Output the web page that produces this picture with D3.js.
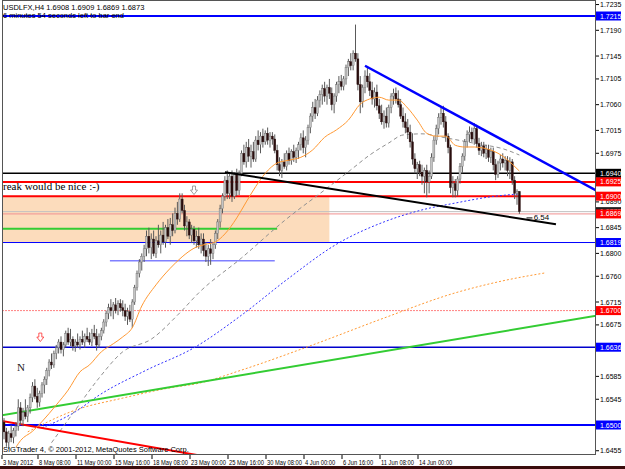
<!DOCTYPE html>
<html><head><meta charset="utf-8">
<script src="https://cdn.jsdelivr.net/npm/d3@7"></script>
<style>body{margin:0;background:#fff;overflow:hidden}svg{display:block}</style>
</head><body><svg id="c" width="625" height="469"></svg>
<script>
// ---------- DATA ----------
const candles = [
[1.6505,1.6512,1.6475,1.6488],[1.6488,1.6495,1.6462,1.6470],[1.6470,1.6490,1.6458,1.6485],[1.6485,1.6500,1.6470,1.6478],
[1.6478,1.6495,1.6468,1.6490],[1.6490,1.6505,1.6480,1.6498],[1.6498,1.6545,1.6490,1.6530],[1.6530,1.6540,1.6500,1.6508],
[1.6508,1.6530,1.6498,1.6522],[1.6522,1.6545,1.6510,1.6515],[1.6515,1.6535,1.6505,1.6530],[1.6530,1.6555,1.6520,1.6548],
[1.6548,1.6575,1.6540,1.6568],[1.6568,1.6580,1.6545,1.6550],[1.6550,1.6565,1.6530,1.6540],[1.6540,1.6560,1.6532,1.6555],
[1.6555,1.6575,1.6548,1.6570],[1.6570,1.6585,1.6555,1.6580],[1.6580,1.6600,1.6570,1.6595],[1.6595,1.6615,1.6585,1.6610],
[1.6610,1.6625,1.6598,1.6605],[1.6605,1.6630,1.6600,1.6625],[1.6625,1.6640,1.6615,1.6635],[1.6635,1.6650,1.6625,1.6645],
[1.6645,1.6655,1.6625,1.6632],[1.6632,1.6645,1.6620,1.6640],[1.6640,1.6665,1.6635,1.6660],[1.6660,1.6670,1.6640,1.6645],
[1.6645,1.6668,1.6638,1.6650],[1.6650,1.6655,1.6630,1.6638],[1.6638,1.6650,1.6628,1.6645],[1.6645,1.6660,1.6635,1.6640],
[1.6640,1.6655,1.6632,1.6650],[1.6650,1.6665,1.6640,1.6645],[1.6645,1.6660,1.6635,1.6655],[1.6655,1.6670,1.6645,1.6650],
[1.6650,1.6662,1.6640,1.6645],[1.6645,1.6668,1.6638,1.6660],[1.6660,1.6675,1.6650,1.6655],[1.6655,1.6668,1.6630,1.6640],
[1.6640,1.6660,1.6635,1.6655],[1.6655,1.6670,1.6648,1.6665],[1.6665,1.6685,1.6660,1.6680],[1.6680,1.6700,1.6672,1.6695],
[1.6695,1.6712,1.6685,1.6705],[1.6705,1.6720,1.6690,1.6700],[1.6700,1.6715,1.6685,1.6710],[1.6710,1.6722,1.6695,1.6700],
[1.6700,1.6718,1.6692,1.6712],[1.6712,1.6720,1.6698,1.6705],[1.6705,1.6718,1.6690,1.6700],[1.6700,1.6712,1.6682,1.6690],
[1.6690,1.6705,1.6675,1.6698],[1.6698,1.6710,1.6680,1.6685],[1.6685,1.6720,1.6670,1.6715],[1.6715,1.6745,1.6710,1.6740],
[1.6740,1.6770,1.6735,1.6765],[1.6765,1.6790,1.6758,1.6785],[1.6785,1.6800,1.6770,1.6795],[1.6795,1.6815,1.6785,1.6808],
[1.6808,1.6840,1.6795,1.6830],[1.6830,1.6845,1.6800,1.6810],[1.6810,1.6835,1.6790,1.6825],[1.6825,1.6840,1.6795,1.6800],
[1.6800,1.6830,1.6792,1.6822],[1.6822,1.6850,1.6810,1.6815],[1.6815,1.6840,1.6800,1.6832],[1.6832,1.6855,1.6815,1.6820],
[1.6820,1.6850,1.6810,1.6845],[1.6845,1.6860,1.6825,1.6830],[1.6830,1.6862,1.6815,1.6850],[1.6850,1.6870,1.6830,1.6840],
[1.6840,1.6880,1.6835,1.6870],[1.6870,1.6890,1.6850,1.6860],[1.6860,1.6905,1.6855,1.6895],[1.6895,1.6905,1.6870,1.6875],
[1.6875,1.6885,1.6840,1.6848],[1.6848,1.6865,1.6830,1.6855],[1.6855,1.6860,1.6825,1.6832],[1.6832,1.6850,1.6818,1.6842],
[1.6842,1.6848,1.6815,1.6822],[1.6822,1.6840,1.6810,1.6830],[1.6830,1.6845,1.6808,1.6815],[1.6815,1.6835,1.6800,1.6825],
[1.6825,1.6835,1.6795,1.6805],[1.6805,1.6820,1.6785,1.6795],[1.6795,1.6815,1.6778,1.6808],[1.6808,1.6825,1.6780,1.6800],
[1.6800,1.6820,1.6790,1.6815],[1.6815,1.6840,1.6808,1.6835],[1.6835,1.6860,1.6825,1.6855],[1.6855,1.6885,1.6845,1.6878],
[1.6878,1.6905,1.6870,1.6900],[1.6900,1.6935,1.6892,1.6928],[1.6928,1.6945,1.6895,1.6905],[1.6905,1.6940,1.6895,1.6935],
[1.6935,1.6945,1.6890,1.6900],[1.6900,1.6942,1.6895,1.6938],[1.6938,1.6948,1.6900,1.6910],[1.6910,1.6945,1.6902,1.6940],
[1.6940,1.6980,1.6935,1.6975],[1.6975,1.6990,1.6955,1.6960],[1.6960,1.6995,1.6950,1.6985],[1.6985,1.7000,1.6960,1.6970],
[1.6970,1.6990,1.6950,1.6978],[1.6978,1.6995,1.6960,1.6965],[1.6965,1.7005,1.6960,1.6998],[1.6998,1.7015,1.6980,1.6990],
[1.6990,1.7012,1.6975,1.7005],[1.7005,1.7018,1.6985,1.6995],[1.6995,1.7015,1.6990,1.7010],[1.7010,1.7020,1.6990,1.6998],
[1.6998,1.7012,1.6985,1.7005],[1.7005,1.7012,1.6990,1.7000],[1.7000,1.7008,1.6975,1.6980],[1.6980,1.6990,1.6945,1.6955],
[1.6955,1.6968,1.6935,1.6945],[1.6945,1.6965,1.6932,1.6960],[1.6960,1.6975,1.6948,1.6952],[1.6952,1.6980,1.6945,1.6975],
[1.6975,1.6985,1.6955,1.6962],[1.6962,1.6982,1.6955,1.6978],[1.6978,1.6990,1.6960,1.6968],[1.6968,1.6985,1.6958,1.6980],
[1.6980,1.6995,1.6965,1.6990],[1.6990,1.7010,1.6980,1.7002],[1.7002,1.7015,1.6975,1.6985],[1.6985,1.7005,1.6968,1.6998],
[1.6998,1.7025,1.6990,1.7020],[1.7020,1.7045,1.7010,1.7040],[1.7040,1.7065,1.7030,1.7055],[1.7055,1.7070,1.7035,1.7045],
[1.7045,1.7075,1.7040,1.7068],[1.7068,1.7085,1.7055,1.7078],[1.7078,1.7095,1.7060,1.7088],[1.7088,1.7100,1.7065,1.7075],
[1.7075,1.7095,1.7060,1.7090],[1.7090,1.7105,1.7070,1.7080],[1.7080,1.7090,1.7050,1.7060],[1.7060,1.7080,1.7045,1.7075],
[1.7075,1.7100,1.7065,1.7095],[1.7095,1.7110,1.7080,1.7100],[1.7100,1.7112,1.7085,1.7092],[1.7092,1.7110,1.7085,1.7105],
[1.7105,1.7130,1.7095,1.7125],[1.7125,1.7140,1.7110,1.7135],[1.7135,1.7150,1.7120,1.7128],[1.7128,1.7155,1.7120,1.7150],
[1.7150,1.7200,1.7135,1.7140],[1.7140,1.7150,1.7085,1.7095],[1.7095,1.7110,1.7045,1.7065],[1.7065,1.7095,1.7055,1.7090],
[1.7090,1.7120,1.7080,1.7110],[1.7110,1.7125,1.7090,1.7100],[1.7100,1.7115,1.7075,1.7085],[1.7085,1.7100,1.7060,1.7070],
[1.7070,1.7090,1.7055,1.7082],[1.7082,1.7095,1.7050,1.7058],[1.7058,1.7070,1.7035,1.7045],[1.7045,1.7060,1.7025,1.7030],
[1.7030,1.7050,1.7018,1.7040],[1.7040,1.7055,1.7020,1.7028],[1.7028,1.7060,1.7020,1.7055],[1.7055,1.7080,1.7045,1.7075],
[1.7075,1.7088,1.7060,1.7080],[1.7080,1.7090,1.7062,1.7070],[1.7070,1.7085,1.7055,1.7060],[1.7060,1.7070,1.7035,1.7040],
[1.7040,1.7055,1.7020,1.7030],[1.7030,1.7045,1.7010,1.7020],[1.7020,1.7035,1.7000,1.7012],[1.7012,1.7025,1.6985,1.6995],
[1.6995,1.7010,1.6955,1.6965],[1.6965,1.6975,1.6940,1.6948],[1.6948,1.6960,1.6930,1.6955],[1.6955,1.6962,1.6935,1.6942],
[1.6942,1.6955,1.6920,1.6935],[1.6935,1.6950,1.6905,1.6945],[1.6945,1.6955,1.6898,1.6925],[1.6925,1.6945,1.6905,1.6935],
[1.6935,1.6975,1.6930,1.6968],[1.6968,1.7005,1.6960,1.6998],[1.6998,1.7025,1.6990,1.7018],[1.7018,1.7045,1.7008,1.7038],
[1.7038,1.7055,1.7025,1.7045],[1.7045,1.7058,1.7020,1.7030],[1.7030,1.7040,1.6995,1.7005],[1.7005,1.7010,1.6975,1.6985],
[1.6985,1.6990,1.6905,1.6915],[1.6915,1.6935,1.6898,1.6922],[1.6922,1.6930,1.6898,1.6910],[1.6910,1.6935,1.6900,1.6930],
[1.6930,1.6958,1.6922,1.6952],[1.6952,1.6975,1.6940,1.6970],[1.6970,1.7000,1.6962,1.6995],[1.6995,1.7015,1.6985,1.7008],
[1.7008,1.7022,1.6995,1.7012],[1.7012,1.7020,1.6995,1.7000],[1.7000,1.7028,1.6990,1.7018],[1.7018,1.7025,1.6985,1.6992],
[1.6992,1.7002,1.6972,1.6980],[1.6980,1.6995,1.6970,1.6988],[1.6988,1.6995,1.6968,1.6975],[1.6975,1.6990,1.6965,1.6982],
[1.6982,1.6990,1.6960,1.6968],[1.6968,1.6985,1.6958,1.6978],[1.6978,1.6985,1.6945,1.6955],[1.6955,1.6965,1.6928,1.6938],
[1.6938,1.6962,1.6932,1.6958],[1.6958,1.6972,1.6945,1.6965],[1.6965,1.6975,1.6950,1.6958],[1.6958,1.6970,1.6945,1.6962],
[1.6962,1.6970,1.6935,1.6945],[1.6945,1.6968,1.6930,1.6960],[1.6960,1.6965,1.6920,1.6928],[1.6928,1.6935,1.6895,1.6905],
[1.6905,1.6912,1.6885,1.6908],[1.6908,1.6909,1.6869,1.6873]
];
// moving averages sampled: [bar index, value]
const maFast = [[5,1.6461],[7,1.6473],[12,1.6489],[16,1.6506],[22,1.6535],[27,1.6561],[32,1.6593],[36,1.6605],[41,1.6628],[46,1.6642],[50,1.6654],[54,1.6670],[58,1.6708],[64,1.6745],[70,1.6774],[75,1.6794],[80,1.6809],[85,1.6816],[89,1.6820],[93,1.6834],[98,1.6862],[102,1.6890],[106,1.6917],[110,1.6940],[115,1.6958],[120,1.6963],[125,1.6968],[130,1.6981],[135,1.7003],[140,1.7016],[145,1.7033],[150,1.7061],[154,1.7070],[158,1.7073],[162,1.7068],[166,1.7068],[170,1.7054],[174,1.7033],[178,1.7010],[182,1.7005],[186,1.7005],[190,1.6989],[194,1.6986],[198,1.6986],[202,1.6984],[206,1.6979],[210,1.6970],[214,1.6956],[217,1.6944]];
const maMid = [[20,1.6469],[30,1.6526],[40,1.6582],[50,1.6628],[62,1.6650],[74,1.6696],[82,1.6731],[100,1.6792],[118,1.6857],[136,1.6914],[146,1.6946],[154,1.6972],[162,1.6993],[168,1.7007],[176,1.7009],[186,1.7002],[200,1.6991],[210,1.6983],[217,1.6972]];
const maSlow = [[16,1.6495],[30,1.6523],[40,1.6552],[60,1.6596],[80,1.6635],[100,1.6692],[120,1.6757],[140,1.6816],[160,1.6855],[176,1.6876],[190,1.6888],[205,1.6899],[217,1.6904]];
const maSlowest = [[10,1.6488],[30,1.6526],[50,1.6547],[70,1.6565],[82,1.6573],[100,1.6596],[130,1.6640],[160,1.6687],[190,1.6731],[210,1.6752],[228,1.6766]];
// horizontal levels
const levels = [
 {p:1.7215,c:"#0000ff",w:2,box:"#0000ff"},
 {p:1.6940,c:"#000000",w:1.5,box:"#000000"},
 {p:1.6925,c:"#ff0000",w:2,box:"#ff0000"},
 {p:1.6900,c:"#ff0000",w:2,box:"#ff0000"},
 {p:1.6873,c:"#c0c0c0",w:1,box:"#202020"},
 {p:1.6869,c:"#f09090",w:1,box:"#ff0000"},
 {p:1.6819,c:"#0000ff",w:1,box:"#0000ff"},
 {p:1.6700,c:"#ff8080",w:1,box:"#ff0000",dash:"2,1"},
 {p:1.6636,c:"#0000cc",w:1.5,box:"#0000ff"},
 {p:1.6500,c:"#0000ff",w:2,box:"#0000ff"}
];
const priceTicks = [1.7235,1.7190,1.7145,1.7105,1.7060,1.7015,1.6975,1.6890,1.6845,1.6800,1.6760,1.6715,1.6675,1.6585,1.6545,1.6455];
const timeTickBars = [0,16,32,48,64,80,96,112,128,144,160,176];
const timeTickLabels = ["3 May 2012","8 May 08:00","11 May 00:00","15 May 16:00","18 May 08:00","23 May 00:00","25 May 16:00","30 May 08:00","4 Jun 00:00","6 Jun 16:00","11 Jun 08:00","14 Jun 00:00"];
// drawn objects (bar index, price)
const trendBlue = [[152,1.7128],[249.3,1.6910]];
const trendBlack = [[93,1.6942],[232.4,1.6851]];
const trendRed = [[-1,1.6507],[100,1.6434]];
const trendGreen = [[-1,1.6517],[249.3,1.6691]];
const zoneRect = {x0:-1,x1:137,p0:1.6900,p1:1.6819};
const segGreen = {x0:-1,x1:115,p:1.6843};
const segLav = {x0:44.6,x1:114,p:1.6787};

// ---------- DRAW ----------
const W=625,H=469, L=2, R=596, T=2, B=455;
const svg=d3.select("#c");
const x=d3.scaleLinear().domain([0,1]).range([4,6.375]);
const y=d3.scaleLinear().domain([1.6500,1.7215]).range([425,16]);
svg.append("rect").attr("width",W).attr("height",H).attr("fill","#fff");
svg.append("defs").append("clipPath").attr("id","plot").append("rect").attr("x",L).attr("y",T).attr("width",R-L).attr("height",B-T);
const g=svg.append("g").attr("clip-path","url(#plot)");

g.append("rect").attr("x",x(zoneRect.x0)).attr("width",x(zoneRect.x1)-x(zoneRect.x0))
 .attr("y",y(zoneRect.p0)).attr("height",y(zoneRect.p1)-y(zoneRect.p0)).attr("fill","#fcdcbc");

levels.forEach(l=>{
  g.append("line").attr("x1",L).attr("x2",R).attr("y1",y(l.p)).attr("y2",y(l.p))
   .attr("stroke",l.c).attr("stroke-width",l.w).attr("stroke-dasharray",l.dash||null);
});
g.append("line").attr("x1",x(segGreen.x0)).attr("x2",x(segGreen.x1)).attr("y1",y(segGreen.p)).attr("y2",y(segGreen.p)).attr("stroke","#33cc33").attr("stroke-width",2);
g.append("line").attr("x1",x(segLav.x0)).attr("x2",x(segLav.x1)).attr("y1",y(segLav.p)).attr("y2",y(segLav.p)).attr("stroke","#8080ff").attr("stroke-width",1.5);

const ln=d3.line().x(d=>x(d[0])).y(d=>y(d[1])).curve(d3.curveMonotoneX);
g.append("path").attr("d",ln(maSlowest)).attr("fill","none").attr("stroke","#ff9933").attr("stroke-width",1).attr("stroke-dasharray","2,2");
g.append("path").attr("d",ln(maSlow)).attr("fill","none").attr("stroke","#3333ff").attr("stroke-width",1).attr("stroke-dasharray","2,2");
g.append("path").attr("d",ln(maMid)).attr("fill","none").attr("stroke","#909090").attr("stroke-width",1).attr("stroke-dasharray","4,3");

const tl=d3.line().x(d=>x(d[0])).y(d=>y(d[1]));
g.append("path").attr("d",tl(trendGreen)).attr("stroke","#33cc33").attr("stroke-width",2).attr("fill","none");
g.append("path").attr("d",tl(trendRed)).attr("stroke","#ff0000").attr("stroke-width",2).attr("fill","none");

const cg=g.append("g");
candles.forEach((c,i)=>{
  const [o,h,l,cl]=c, cx=x(i), up=cl>=o;
  cg.append("line").attr("x1",cx).attr("x2",cx).attr("y1",y(h)).attr("y2",y(l)).attr("stroke","#5a5a5a").attr("stroke-width",1);
  const top=y(Math.max(o,cl)), bot=y(Math.min(o,cl));
  cg.append("rect").attr("x",cx-1).attr("width",2).attr("y",top).attr("height",Math.max(1,bot-top))
    .attr("fill",up?"#c4c4c4":"#2a0e0e").attr("stroke",up?"#6a6a6a":"#2a0e0e").attr("stroke-width",0.4);
});
g.append("path").attr("d",ln(maFast)).attr("fill","none").attr("stroke","#ff9933").attr("stroke-width",1);

g.append("path").attr("d",tl(trendBlack)).attr("stroke","#000").attr("stroke-width",2).attr("fill","none");
g.append("path").attr("d",tl(trendBlue)).attr("stroke","#0000ff").attr("stroke-width",2.5).attr("fill","none");

function arrow(cx,cy,col){
  g.append("path").attr("d",`M${cx-1.5},${cy-5}h3v4h2l-3.5,4.5l-3.5,-4.5h2z`).attr("fill","#fff").attr("stroke",col).attr("stroke-width",0.8);
}
arrow(x(80),y(1.6909),"#888");
arrow(x(15.3),y(1.6652),"#ff3030");

g.append("text").attr("x",3).attr("y",190).attr("font-family","Liberation Serif").attr("font-size",11).attr("fill","#000").text("reak would be nice  :-)");
g.append("text").attr("x",x(5.5)).attr("y",y(1.6594)).attr("font-family","Liberation Serif").attr("font-size",11).attr("fill","#222").text("N");
g.append("line").attr("x1",x(220)).attr("x2",x(222.5)).attr("y1",y(1.6862)).attr("y2",y(1.6862)).attr("stroke","#000");
g.append("text").attr("x",x(223)).attr("y",y(1.6858)).attr("font-family","Liberation Sans").attr("font-size",8).attr("fill","#000").text("6.54");

const hdr=svg.append("g").attr("font-family","Liberation Sans").attr("font-size",7.5).attr("fill","#000");
hdr.append("text").attr("x",3).attr("y",10).text("USDLFX,H4  1.6908 1.6909 1.6869 1.6873");
hdr.append("text").attr("x",3).attr("y",17.5).text("6 minutes 54 seconds left to bar end");
svg.append("text").attr("x",3).attr("y",452).attr("font-family","Liberation Sans").attr("font-size",7.5).attr("fill","#000").text("SIGTrader 4, \u00a9 2001-2012, MetaQuotes Software Corp.");

svg.append("rect").attr("x",L+0.5).attr("y",T-1.5).attr("width",R-L-1).attr("height",B-T+1).attr("fill","none").attr("stroke","#555");

const pa=svg.append("g").attr("font-family","Liberation Sans").attr("font-size",7).attr("fill","#000");
priceTicks.forEach(p=>{
  pa.append("line").attr("x1",R).attr("x2",R+3).attr("y1",y(p)).attr("y2",y(p)).attr("stroke","#000");
  pa.append("text").attr("x",R+4).attr("y",y(p)+2.5).text(p.toFixed(4));
});
levels.forEach(l=>{
  pa.append("rect").attr("x",R).attr("y",y(l.p)-4.5).attr("width",25).attr("height",9).attr("fill",l.box);
  pa.append("text").attr("x",R+4).attr("y",y(l.p)+2.5).attr("fill","#fff").text(l.p.toFixed(4));
});
const ta=svg.append("g").attr("font-family","Liberation Sans").attr("font-size",8).attr("fill","#000");
timeTickBars.forEach((b,k)=>{
  const tx = k===0? L : x(b)-4;
  ta.append("line").attr("x1",tx).attr("x2",tx).attr("y1",B).attr("y2",B+4).attr("stroke","#000");
  ta.append("text").attr("transform",`translate(${tx+1},${B+9.5}) scale(0.72,1)`).text(timeTickLabels[k]);
});
svg.append("rect").attr("x",0).attr("y",466).attr("width",W).attr("height",3).attr("fill","#3a0c0c");
</script></body></html>
